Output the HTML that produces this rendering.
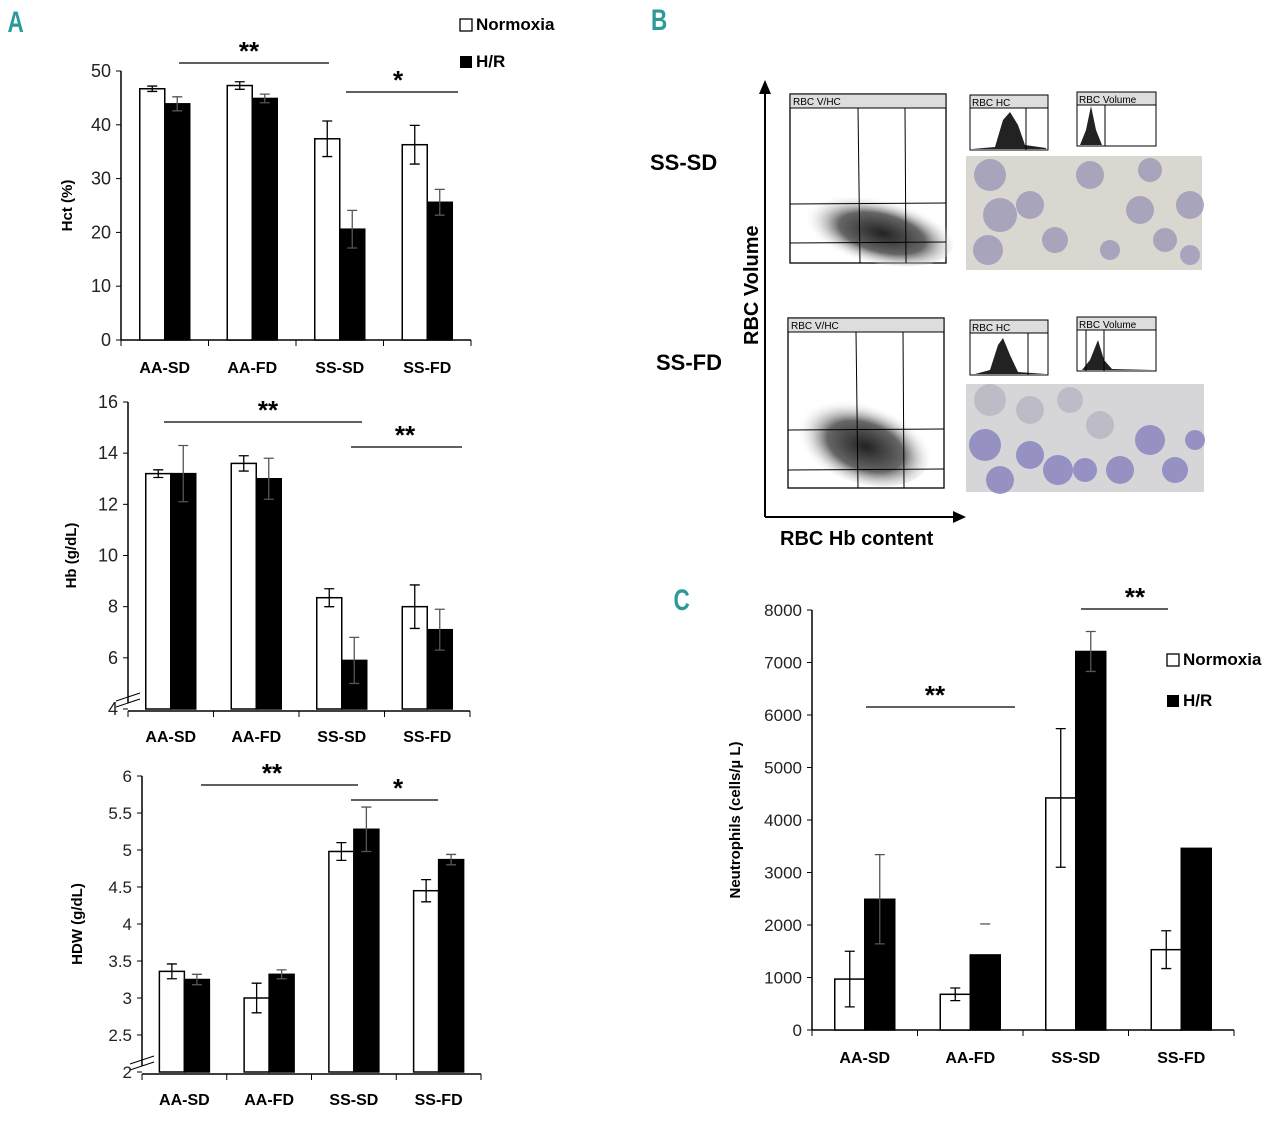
<!DOCTYPE html>
<html><head><meta charset="utf-8"><style>
html,body{margin:0;padding:0;background:#fff;}
svg{display:block;font-family:"Liberation Sans",sans-serif;}
</style></head><body>
<svg id="fig" width="1280" height="1123" viewBox="0 0 1280 1123" xmlns="http://www.w3.org/2000/svg">
<text x="10" y="32" font-size="30" font-weight="bold" fill="#2a9a9a" transform="scale(0.75,1)">A</text>
<text x="868" y="30" font-size="30" font-weight="bold" fill="#2a9a9a" transform="scale(0.75,1)">B</text>
<text x="898" y="610" font-size="30" font-weight="bold" fill="#2a9a9a" transform="scale(0.75,1)">C</text>

<g>
  <line x1="765" y1="517" x2="765" y2="92" stroke="#000" stroke-width="2"/>
  <polygon points="759,94 771,94 765,80" fill="#000"/>
  <line x1="765" y1="517" x2="955" y2="517" stroke="#000" stroke-width="2"/>
  <polygon points="953,511 953,523 966,517" fill="#000"/>
  <text x="0" y="0" font-size="20" font-weight="bold" transform="translate(758,345) rotate(-90)">RBC Volume</text>
  <text x="780" y="545" font-size="20" font-weight="bold">RBC Hb content</text>
  <text x="650" y="170" font-size="22" font-weight="bold">SS-SD</text>
  <text x="656" y="370" font-size="22" font-weight="bold">SS-FD</text>
  <defs>
    <radialGradient id="sc" cx="0.55" cy="0.55" r="0.5">
      <stop offset="0" stop-color="#222"/><stop offset="0.55" stop-color="#666"/><stop offset="1" stop-color="#fff" stop-opacity="0"/>
    </radialGradient>
  </defs>
  <g>
    <rect x="790" y="94" width="156" height="169" fill="#fff" stroke="#000" stroke-width="1.3"/>
    <rect x="790" y="94" width="156" height="14" fill="#ddd" stroke="#000"/>
    <text x="793" y="105" font-size="10">RBC V/HC</text>
    <ellipse cx="875" cy="228" rx="80" ry="34" fill="url(#sc)" transform="rotate(14 875 228)"/>
    <line x1="858" y1="108" x2="860" y2="263" stroke="#000"/><line x1="905" y1="108" x2="906" y2="263" stroke="#000"/>
    <line x1="790" y1="204" x2="946" y2="203" stroke="#000"/><line x1="790" y1="243" x2="946" y2="242" stroke="#000"/>
  </g>
  <g>
    <rect x="788" y="318" width="156" height="170" fill="#fff" stroke="#000" stroke-width="1.3"/>
    <rect x="788" y="318" width="156" height="14" fill="#ddd" stroke="#000"/>
    <text x="791" y="329" font-size="10">RBC V/HC</text>
    <ellipse cx="860" cy="440" rx="72" ry="42" fill="url(#sc)" transform="rotate(20 860 440)"/>
    <line x1="856" y1="332" x2="858" y2="488" stroke="#000"/><line x1="903" y1="332" x2="904" y2="488" stroke="#000"/>
    <line x1="788" y1="430" x2="944" y2="429" stroke="#000"/><line x1="788" y1="470" x2="944" y2="469" stroke="#000"/>
  </g>
  <g font-size="10">
    <rect x="970" y="95" width="78" height="55" fill="#fff" stroke="#000"/><rect x="970" y="95" width="78" height="13" fill="#ddd" stroke="#000"/><text x="972" y="106">RBC HC</text>
    <path d="M972,149 L995,147 L1003,120 L1010,112 L1018,125 L1025,145 L1046,148 L1046,149Z" fill="#222"/><line x1="1026" y1="108" x2="1026" y2="150" stroke="#000"/>
    <rect x="1077" y="92" width="79" height="54" fill="#fff" stroke="#000"/><rect x="1077" y="92" width="79" height="13" fill="#ddd" stroke="#000"/><text x="1079" y="103">RBC Volume</text>
    <path d="M1080,145 L1086,130 L1091,106 L1096,130 L1102,145Z" fill="#222"/><line x1="1105" y1="105" x2="1105" y2="146" stroke="#000"/>
    <rect x="970" y="320" width="78" height="55" fill="#fff" stroke="#000"/><rect x="970" y="320" width="78" height="13" fill="#ddd" stroke="#000"/><text x="972" y="331">RBC HC</text>
    <path d="M975,374 L990,370 L998,345 L1003,338 L1010,355 L1018,372 L1046,374Z" fill="#222"/><line x1="1028" y1="333" x2="1028" y2="375" stroke="#000"/>
    <rect x="1077" y="317" width="79" height="54" fill="#fff" stroke="#000"/><rect x="1077" y="317" width="79" height="13" fill="#ddd" stroke="#000"/><text x="1079" y="328">RBC Volume</text>
    <path d="M1082,370 L1090,360 L1098,340 L1104,360 L1112,369 L1154,370Z" fill="#222"/><line x1="1086" y1="330" x2="1086" y2="371" stroke="#000"/><line x1="1104" y1="330" x2="1104" y2="371" stroke="#000"/>
  </g>
  <g>
    <rect x="966" y="156" width="236" height="114" fill="#d9d7d0"/>
    <g fill="#9d98b8" opacity="0.8">
      <circle cx="990" cy="175" r="16"/><circle cx="1000" cy="215" r="17"/><circle cx="1030" cy="205" r="14"/><circle cx="988" cy="250" r="15"/>
      <circle cx="1055" cy="240" r="13"/><circle cx="1090" cy="175" r="14"/><circle cx="1110" cy="250" r="10"/><circle cx="1140" cy="210" r="14"/>
      <circle cx="1150" cy="170" r="12"/><circle cx="1190" cy="205" r="14"/><circle cx="1190" cy="255" r="10"/><circle cx="1165" cy="240" r="12"/>
    </g>
  </g>
  <g>
    <rect x="966" y="384" width="238" height="108" fill="#d6d6d8"/>
    <g fill="#8a86c0" opacity="0.85">
      <circle cx="985" cy="445" r="16"/><circle cx="1000" cy="480" r="14"/><circle cx="1030" cy="455" r="14"/><circle cx="1058" cy="470" r="15"/>
      <circle cx="1085" cy="470" r="12"/><circle cx="1120" cy="470" r="14"/><circle cx="1150" cy="440" r="15"/><circle cx="1175" cy="470" r="13"/>
      <circle cx="1195" cy="440" r="10"/>
    </g>
    <g fill="#bdbcc6"><circle cx="990" cy="400" r="16"/><circle cx="1030" cy="410" r="14"/><circle cx="1070" cy="400" r="13"/><circle cx="1100" cy="425" r="14"/></g>
  </g>
</g>
</svg>
<script>
const cats = ["AA-SD","AA-FD","SS-SD","SS-FD"];
const hctNorm = [46.7,47.3,37.4,36.3];
const hctNormErr = [0.5,0.7,3.3,3.6];
const hctHR = [43.9,44.9,20.6,25.6];
const hctHRErr = [1.3,0.8,3.5,2.4];
const hctTicks = [0,10,20,30,40,50];
const hbNorm = [13.2,13.6,8.35,8.0];
const hbNormErr = [0.15,0.3,0.35,0.85];
const hbHR = [13.2,13.0,5.9,7.1];
const hbHRErr = [1.1,0.8,0.9,0.8];
const hbTicks = [4,6,8,10,12,14,16];
const hdwNorm = [3.36,3.0,4.98,4.45];
const hdwNormErr = [0.1,0.2,0.12,0.15];
const hdwHR = [3.25,3.32,5.28,4.87];
const hdwHRErr = [0.07,0.06,0.3,0.07];
const hdwTicks = [2,2.5,3,3.5,4,4.5,5,5.5,6];
const neuNorm = [970,680,4420,1530];
const neuNormErr = [530,120,1320,360];
const neuHR = [2490,1430,7210,3460];
const neuHRErr = [850,590,380,0];
const neuHRCapOnly = [false,true,false,false];
const neuTicks = [0,1000,2000,3000,4000,5000,6000,7000,8000];

const NS="http://www.w3.org/2000/svg";
const svg=document.getElementById('fig');
function el(tag,attrs,parent,text){const e=document.createElementNS(NS,tag);for(const k in attrs)e.setAttribute(k,attrs[k]);if(text!==undefined)e.textContent=text;(parent||svg).appendChild(e);return e;}

function chart(o){
  const g=el('g',{});
  
  
  const y=v=>o.y0+(v-o.vmin)/(o.vmax-o.vmin)*(o.y1-o.y0);
  const bw=(o.x1-o.x0)/cats.length;
  const fs=o.fs||16;
  const ya=el('line',{x1:o.x0,y1:o.y1,x2:o.x0,y2:o.y0+ (o.brk?-6:0),stroke:'#000','stroke-width':1.5},g);
  
  
  const xa=el('line',{x1:o.x0,y1:o.y0+(o.brk?2:0),x2:o.x1,y2:o.y0+(o.brk?2:0),stroke:'#000','stroke-width':1.5},g);
  
  
  if(o.brk){
    el('line',{x1:o.x0-12,y1:o.y0-8,x2:o.x0+12,y2:o.y0-16,stroke:'#000'},g);
    el('line',{x1:o.x0-12,y1:o.y0-2,x2:o.x0+12,y2:o.y0-10,stroke:'#000'},g);
  }
  o.ticks.forEach(t=>{
    el('line',{x1:o.x0-5,y1:y(t),x2:o.x0,y2:y(t),stroke:'#000'},g);
    const tl=el('text',{x:o.x0-10,y:y(t)+6,'text-anchor':'end','font-size':o.tfs||17,fill:'#222'},g,t);
    
    
  });
  const ly=o.y0+(o.brk?2:0);
  for(let i=0;i<=cats.length;i++) el('line',{x1:o.x0+i*bw,y1:ly,x2:o.x0+i*bw,y2:ly+6,stroke:'#000'},g);
  cats.forEach((c,i)=>{
    const cx=o.x0+(i+0.5)*bw;
    const cl=el('text',{x:cx,y:o.y0+33,'text-anchor':'middle','font-size':fs,'font-weight':'bold'},g,c);
    
    
    [[o.n,o.ne,'#fff',-1,null],[o.h,o.he,'#000',0,o.capOnly]].forEach(([vals,errs,fill,off,cap])=>{
      const bx=cx+off*o.w;
      const b=el('rect',{x:bx,y:y(vals[i]),width:o.w,height:o.y0-y(vals[i]),fill:fill,stroke:'#000','stroke-width':1.5},g);
      
      
      const ex=bx+o.w/2;
      if(errs[i]>0){
        const e1=y(vals[i]+errs[i]),e2=y(vals[i]-errs[i]);
        const d=(cap&&cap[i])?`M${ex-5},${e1}H${ex+5}`:`M${ex},${e1}V${e2}M${ex-5},${e1}H${ex+5}M${ex-5},${e2}H${ex+5}`;
        const eb=el('path',{d:d,stroke:fill==='#fff'?'#000':'#555','stroke-width':1.3,fill:'none'},g);
        
        
      }
    });
  });
  const at=el('text',{x:0,y:0,'font-size':fs-1,'font-weight':'bold',transform:`translate(${o.tx},${(o.y0+o.y1)/2}) rotate(-90)`,'text-anchor':'middle'},g,o.title);
  
  
  o.sig.forEach(s=>{
    const sl=el('line',{x1:s[0],y1:s[2],x2:s[1],y2:s[2],stroke:'#000','stroke-width':1.3},g);
    
    
    const st=el('text',{x:s[4],y:s[2]-3,'text-anchor':'middle','font-size':26,'font-weight':'bold'},g,s[3]);
    
    
  });
  if(o.leg){
    const [lx,ly1,ly2]=o.leg;
    const r1=el('rect',{x:lx,y:ly1-11,width:12,height:12,fill:'#fff',stroke:'#000','stroke-width':1.3},g);
    
    
    const t1=el('text',{x:lx+16,y:ly1,'font-size':17,'font-weight':'bold'},g,'Normoxia');
    
    
    const r2=el('rect',{x:lx,y:ly2-11,width:12,height:12,fill:'#000'},g);
    
    
    const t2=el('text',{x:lx+16,y:ly2,'font-size':17,'font-weight':'bold'},g,'H/R');
    
    
  }
}
chart({name:'hct-chart',x0:121,x1:471,y0:340,y1:71,vmin:0,vmax:50,ticks:hctTicks,n:hctNorm,ne:hctNormErr,h:hctHR,he:hctHRErr,w:25,title:'Hct (%)',tx:72,tfs:18,
  sig:[[179,329,63,'**',249],[346,458,92,'*',398]],leg:[460,30,67]});
chart({name:'hb-chart',x0:128,x1:470,y0:709,y1:402,vmin:4,vmax:16,ticks:hbTicks,n:hbNorm,ne:hbNormErr,h:hbHR,he:hbHRErr,w:25,title:'Hb (g/dL)',tx:76,brk:true,tfs:18,
  sig:[[164,362,422,'**',268],[351,462,447,'**',405]]});
chart({name:'hdw-chart',x0:142,x1:481,y0:1072,y1:776,vmin:2,vmax:6,ticks:hdwTicks,n:hdwNorm,ne:hdwNormErr,h:hdwHR,he:hdwHRErr,w:25,title:'HDW (g/dL)',tx:82,brk:true,
  sig:[[201,358,785,'**',272],[351,438,800,'*',398]]});
chart({name:'neutrophils-chart',x0:812,x1:1234,y0:1030,y1:610,vmin:0,vmax:8000,ticks:neuTicks,n:neuNorm,ne:neuNormErr,h:neuHR,he:neuHRErr,capOnly:neuHRCapOnly,w:30,title:'Neutrophils (cells/µ L)',tx:740,
  sig:[[866,1015,707,'**',935],[1081,1168,609,'**',1135]],leg:[1167,665,706]});
</script>
</body></html>
